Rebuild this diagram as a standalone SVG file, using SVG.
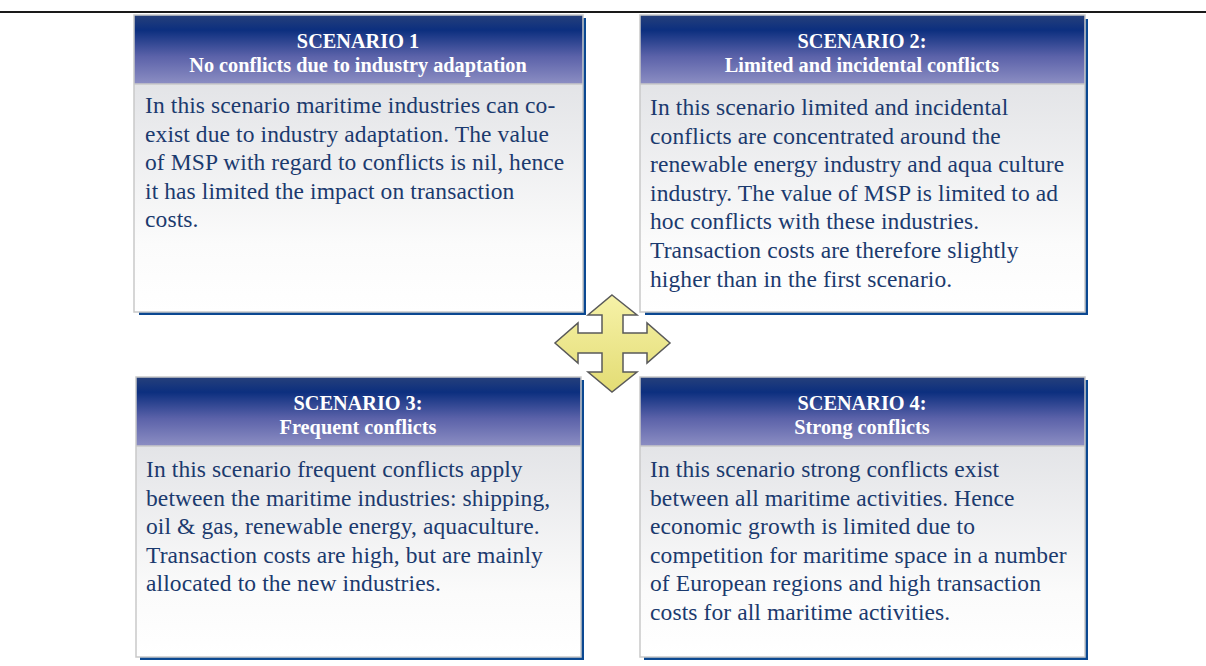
<svg xmlns="http://www.w3.org/2000/svg" width="1206" height="666" viewBox="0 0 1206 666">
<defs>
<linearGradient id="hdr" x1="0" y1="0" x2="0" y2="1">
<stop offset="0" stop-color="#26407a"/>
<stop offset="0.22" stop-color="#0c2f7f"/>
<stop offset="0.6" stop-color="#5b62a9"/>
<stop offset="1" stop-color="#8c8ec3"/>
</linearGradient>
<linearGradient id="body" x1="0" y1="0" x2="0" y2="1">
<stop offset="0" stop-color="#e3e4e7"/>
<stop offset="0.7" stop-color="#fbfbfb"/>
<stop offset="1" stop-color="#ffffff"/>
</linearGradient>
<linearGradient id="arr" x1="0" y1="0" x2="0" y2="1">
<stop offset="0" stop-color="#f6f2a8"/>
<stop offset="1" stop-color="#e3dc74"/>
</linearGradient>
</defs>
<style>
.shadow{fill:#0b4891}
.frame{fill:none;stroke:#c9c9c9;stroke-width:1.5}
.hdr{fill:url(#hdr)}
.body{fill:url(#body)}
.ht{font-family:"Liberation Serif",serif;font-weight:bold;font-size:20.3px;fill:#ffffff;text-anchor:middle}
.bt{font-family:"Liberation Serif",serif;font-size:23.5px;letter-spacing:0.1px;fill:#1b3a6e}
</style>
<line x1="0" y1="12" x2="1206" y2="12" stroke="#1a1a1a" stroke-width="2"/>

<g id="scenario1">
<rect class="shadow" x="139" y="18" width="447" height="297"/>
<rect class="hdr" x="134" y="15" width="449" height="69"/>
<rect class="body" x="134" y="84" width="449" height="228"/>
<rect class="frame" x="134" y="15" width="449" height="297"/>
<line x1="134" y1="84" x2="583" y2="84" stroke="#c9c9c9" stroke-width="1.5"/>
<text class="ht" x="358" y="48">SCENARIO 1</text>
<text class="ht" x="358" y="72">No conflicts due to industry adaptation</text>
<text class="bt" x="145" y="113">In this scenario maritime industries can co-</text>
<text class="bt" x="145" y="141.6">exist due to industry adaptation. The value</text>
<text class="bt" x="145" y="170.2">of MSP with regard to conflicts is nil, hence</text>
<text class="bt" x="145" y="198.8">it has limited the impact on transaction</text>
<text class="bt" x="145" y="227.4">costs.</text>
</g>

<g id="scenario2">
<rect class="shadow" x="645" y="19" width="443" height="296"/>
<rect class="hdr" x="640" y="15" width="445" height="69"/>
<rect class="body" x="640" y="84" width="445" height="228"/>
<rect class="frame" x="640" y="15" width="445" height="297"/>
<line x1="640" y1="84" x2="1085" y2="84" stroke="#c9c9c9" stroke-width="1.5"/>
<text class="ht" x="862" y="48">SCENARIO 2:</text>
<text class="ht" x="862" y="72">Limited and incidental conflicts</text>
<text class="bt" x="650" y="115">In this scenario limited and incidental</text>
<text class="bt" x="650" y="143.6">conflicts are concentrated around the</text>
<text class="bt" x="650" y="172.2">renewable energy industry and aqua culture</text>
<text class="bt" x="650" y="200.8">industry. The value of MSP is limited to ad</text>
<text class="bt" x="650" y="229.4">hoc conflicts with these industries.</text>
<text class="bt" x="650" y="258">Transaction costs are therefore slightly</text>
<text class="bt" x="650" y="286.6">higher than in the first scenario.</text>
</g>

<g id="scenario3">
<rect class="shadow" x="140" y="380" width="444" height="280"/>
<rect class="hdr" x="136" y="377" width="445" height="69"/>
<rect class="body" x="136" y="446" width="445" height="211"/>
<rect class="frame" x="136" y="377" width="445" height="280"/>
<line x1="136" y1="446" x2="581" y2="446" stroke="#c9c9c9" stroke-width="1.5"/>
<text class="ht" x="358" y="410">SCENARIO 3:</text>
<text class="ht" x="358" y="434">Frequent conflicts</text>
<text class="bt" x="146" y="477">In this scenario frequent conflicts apply</text>
<text class="bt" x="146" y="505.6">between the maritime industries: shipping,</text>
<text class="bt" x="146" y="534.2">oil &amp; gas, renewable energy, aquaculture.</text>
<text class="bt" x="146" y="562.8">Transaction costs are high, but are mainly</text>
<text class="bt" x="146" y="591.4">allocated to the new industries.</text>
</g>

<g id="scenario4">
<rect class="shadow" x="644" y="380" width="444" height="280"/>
<rect class="hdr" x="640" y="377" width="445" height="69"/>
<rect class="body" x="640" y="446" width="445" height="211"/>
<rect class="frame" x="640" y="377" width="445" height="280"/>
<line x1="640" y1="446" x2="1085" y2="446" stroke="#c9c9c9" stroke-width="1.5"/>
<text class="ht" x="862" y="410">SCENARIO 4:</text>
<text class="ht" x="862" y="434">Strong conflicts</text>
<text class="bt" x="650" y="477">In this scenario strong conflicts exist</text>
<text class="bt" x="650" y="505.6">between all maritime activities. Hence</text>
<text class="bt" x="650" y="534.2">economic growth is limited due to</text>
<text class="bt" x="650" y="562.8">competition for maritime space in a number</text>
<text class="bt" x="650" y="591.4">of European regions and high transaction</text>
<text class="bt" x="650" y="620">costs for all maritime activities.</text>
</g>

<g id="connectors">
<path d="M612,295 L637,315 L623,315 L623,333 L647,333 L647,323 L670,343 L647,363 L647,353 L623,353 L623,372 L637,372 L612,392 L588,372 L602,372 L602,353 L578,353 L578,363 L555,343 L578,323 L578,333 L602,333 L602,315 L588,315 Z" fill="url(#arr)" stroke="#5a5a5a" stroke-width="1.5" stroke-linejoin="miter"/>
</g>
</svg>
